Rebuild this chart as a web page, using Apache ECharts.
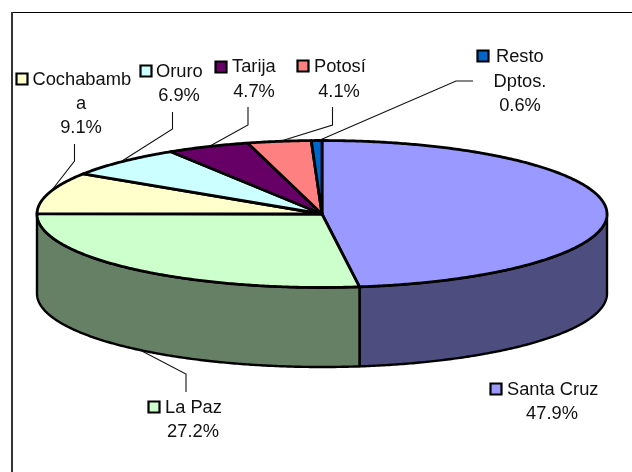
<!DOCTYPE html>
<html>
<head>
<meta charset="utf-8">
<style>html,body{margin:0;padding:0;background:#fff}#c{width:632px;height:472px}</style>
<script src="https://cdn.jsdelivr.net/npm/echarts@6/dist/echarts.min.js"></script>
</head>
<body>
<div id="c"></div>
<script>
// Data
const categories = ['Santa Cruz', 'La Paz', 'Cochabamba', 'Oruro', 'Tarija', 'Potosí', 'Resto Dptos.'];
const labelValues = ['47.9%', '27.2%', '9.1%', '6.9%', '4.7%', '4.1%', '0.6%'];
// Slice sweep as measured on the drawn pie (percent of the circle)
const sliceShares = [47.9, 27.2, 9.1, 6.9, 4.7, 3.6, 0.6];
const topColors = ['#9999FF', '#CCFFCC', '#FFFFCC', '#CCFFFF', '#660066', '#FF8080', '#0066CC'];
const wallColors = ['#4D4D80', '#668066', '#80805F', '#668080', '#330033', '#804040', '#003366'];

// Layout only
const PIE = { cx: 322, cy: 214, rx: 285, ry: 73.5, depth: 79.5 };
const FONT = '18.3px "Liberation Sans", Arial, sans-serif';
const TEXT_DY = 1;
const labelLayout = [
  { key: [490.5, 383.5], lines: [['Santa Cruz', 507, 389, 'left'], ['$v', 552, 413, 'center']],
    leader: null },
  { key: [148.5, 401.5], lines: [['La Paz', 165, 407, 'left'], ['$v', 193, 431, 'center']],
    leader: [[186, 392], [186, 374], [138, 349]] },
  { key: [16.5, 73.5], lines: [['Cochabamb', 32.5, 79, 'left'], ['a', 81, 103, 'center'], ['$v', 81, 127, 'center']],
    leader: [[74.5, 144], [74.5, 161], [52, 190]] },
  { key: [140.5, 65.5], lines: [['Oruro', 156, 71, 'left'], ['$v', 179, 95, 'center']],
    leader: [[172.5, 112], [172.5, 129], [122, 161]] },
  { key: [215.5, 61.5], lines: [['Tarija', 232, 66, 'left'], ['$v', 254, 91, 'center']],
    leader: [[248, 107], [248, 125], [210, 146]] },
  { key: [297.5, 60.5], lines: [['Potosí', 314, 66, 'left'], ['$v', 339, 91, 'center']],
    leader: [[332.5, 107], [332.5, 125], [281, 141]] },
  { key: [477.5, 50.5], lines: [['Resto', 496, 56, 'left'], ['Dptos.', 520, 81, 'center'], ['$v', 520, 105, 'center']],
    leader: [[473, 81], [456, 81], [320, 140]] }
];

function ePoint(deg, dy) {
  const r = deg * Math.PI / 180;
  return [PIE.cx + PIE.rx * Math.sin(r), PIE.cy - PIE.ry * Math.cos(r) + (dy || 0)];
}
function arc(a0, a1, dy) {
  const pts = [], n = Math.max(2, Math.ceil(Math.abs(a1 - a0) * 2));
  for (let i = 0; i <= n; i++) pts.push(ePoint(a0 + (a1 - a0) * i / n, dy));
  return pts;
}
let running = 0;
const sliceData = sliceShares.map((s, i) => { const d = [i, s, running]; running += s; return d; });
const total = running;

function renderSlice(params, api) {
  const i = api.value(0);
  const a0 = api.value(2) / total * 360;
  const a1 = a0 + api.value(1) / total * 360;
  const children = [];
  const w0 = Math.max(a0, 90), w1 = Math.min(a1, 270);
  if (w1 > w0) {
    children.push({
      type: 'polygon', silent: true,
      shape: { points: arc(w0, w1, 0).concat(arc(w1, w0, PIE.depth)) },
      style: { fill: wallColors[i], stroke: '#000', lineWidth: 2.4, lineJoin: 'round' }
    });
  }
  children.push({
    type: 'polygon', silent: true,
    shape: { points: [[PIE.cx, PIE.cy]].concat(arc(a0, a1, 0)) },
    style: { fill: topColors[i], stroke: '#000', lineWidth: 2.8, lineJoin: 'round' }
  });
  return { type: 'group', children };
}

function renderLabel(params, api) {
  const i = api.value(0);
  const L = labelLayout[i];
  const children = [];
  if (L.leader) {
    children.push({
      type: 'polyline', silent: true, shape: { points: L.leader },
      style: { fill: 'none', stroke: '#111', lineWidth: 1.1 }
    });
  }
  children.push({
    type: 'rect', silent: true,
    shape: { x: L.key[0], y: L.key[1], width: 11, height: 11 },
    style: { fill: topColors[i], stroke: '#000', lineWidth: 2.2 }
  });
  L.lines.forEach(t => {
    children.push({
      type: 'text', silent: true,
      style: { text: t[0] === '$v' ? labelValues[i] : t[0], x: t[1], y: t[2] + TEXT_DY, align: t[3],
               verticalAlign: 'middle', font: FONT, fill: '#111' }
    });
  });
  return { type: 'group', children };
}

const chart = echarts.init(document.getElementById('c'), null, { renderer: 'canvas' });
chart.setOption({
  animation: false,
  backgroundColor: '#fff',
  tooltip: { show: false },
  graphic: [
    { type: 'line', silent: true, z: 0, shape: { x1: 12, y1: 12.5, x2: 632, y2: 12.5 },
      style: { stroke: '#000', lineWidth: 1 } },
    { type: 'line', silent: true, z: 0, shape: { x1: 12, y1: 12, x2: 12, y2: 472 },
      style: { stroke: '#333', lineWidth: 2 } }
  ],
  series: [
    { type: 'custom', name: 'Participación', coordinateSystem: 'none', silent: true, z: 2,
      data: sliceData, dimensions: ['idx', 'share', 'start'], renderItem: renderSlice, clip: false },
    { type: 'custom', name: 'Etiquetas', coordinateSystem: 'none', silent: true, z: 3,
      data: categories.map((c, i) => [i]), renderItem: renderLabel, clip: false }
  ]
});
</script>
</body>
</html>
